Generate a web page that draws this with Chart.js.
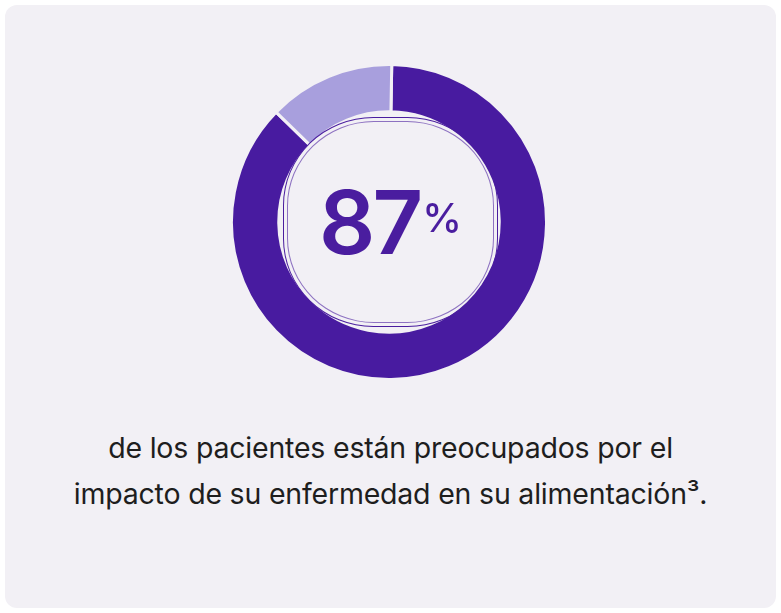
<!DOCTYPE html>
<html><head><meta charset="utf-8">
<script src="https://cdn.jsdelivr.net/npm/chart.js@4"></script>
<style>
html,body{margin:0;padding:0;background:#fff;}
#card{position:absolute;left:5px;top:5px;width:771px;height:603px;background:#f2f0f5;border-radius:12px;}
#wrap{position:absolute;left:224px;top:57px;width:330px;height:330px;}
#ring{position:absolute;left:283px;top:117px;width:215px;height:210px;border:1.5px solid #4a1d9f;border-radius:42%;box-sizing:border-box;}
#ring2{position:absolute;left:287px;top:121px;width:207px;height:202px;border:1px solid #4a1d9f;border-radius:42%;box-sizing:border-box;opacity:.6}
#big{position:absolute;left:0;width:781px;top:178px;text-align:center;font-family:Inter,sans-serif;font-weight:600;color:#4a1d9f;font-size:88px;letter-spacing:-3px;line-height:88px;}
#big sup{font-size:40px;vertical-align:top;position:relative;top:-4px;letter-spacing:0;margin-left:2px;font-weight:500}
#cap{position:absolute;left:0;width:781px;top:425px;text-align:center;font-family:Inter,sans-serif;font-size:28.5px;line-height:46px;color:#1e1e1e;letter-spacing:-0.2px}
</style></head><body>
<div id="card"></div>
<div id="wrap"><canvas id="c" width="330" height="330"></canvas></div>
<div id="ring"></div><div id="ring2"></div>
<div id="big">87<sup>%</sup></div>
<div id="cap">de los pacientes están preocupados por el<br>impacto de su enfermedad en su alimentación³.</div>
<script>
const categories=["Preocupados","No preocupados"];
const values=[87,13];
const colors=["#481ba0","#a89fdd"];
new Chart(document.getElementById('c'),{
 type:'doughnut',
 data:{labels:categories,datasets:[{data:values,backgroundColor:colors,borderColor:'#f2f0f5',borderWidth:3}]},
 options:{responsive:false,animation:false,cutout:'70%',rotation:1,layout:{padding:6},
  plugins:{legend:{display:false},tooltip:{enabled:false}}}
});
</script>
</body></html>
